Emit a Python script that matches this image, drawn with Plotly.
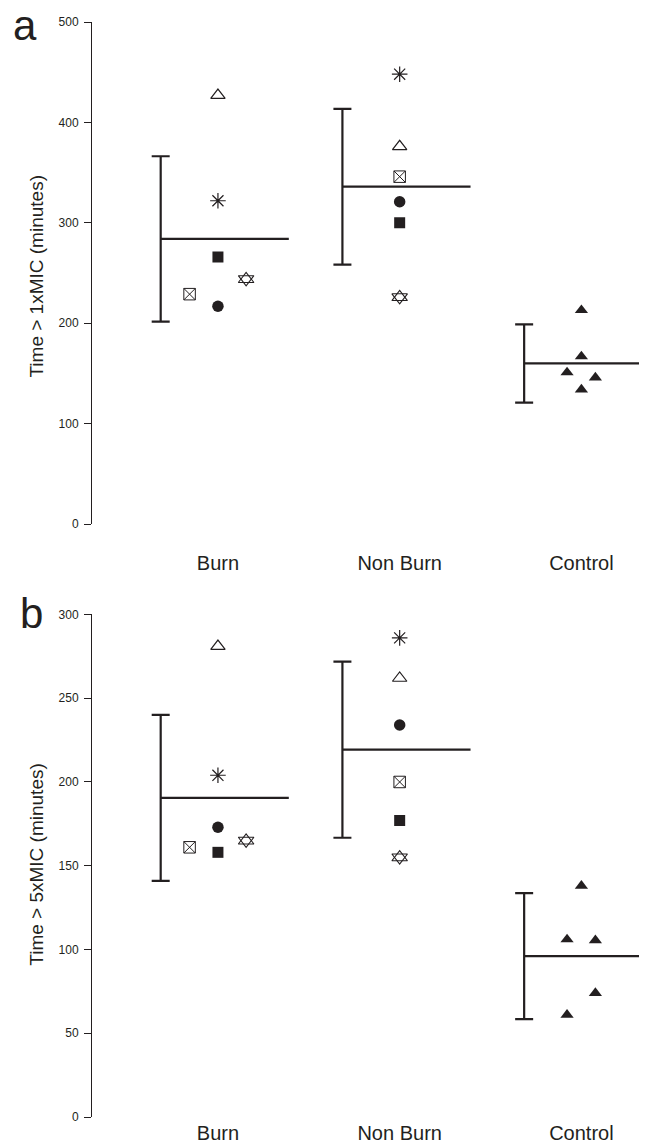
import plotly.graph_objects as go

# ---------------- data ----------------
categories = ["Burn", "Non Burn", "Control"]
subject_symbols = ["open triangle", "asterisk", "filled square", "hexagram", "crossed square", "filled circle"]

# Panel a : Time > 1xMIC (minutes)
burn_a = [427, 322, 266, 244, 229, 217]
nonburn_a = [376, 448, 300, 226, 346, 321]
control_a = [213, 167, 151, 146, 134]
mean_a = [284, 336, 160]
sd_a = [82.3, 77.5, 39.0]
ticks_a = [0, 100, 200, 300, 400, 500]

# Panel b : Time > 5xMIC (minutes)
burn_b = [281, 204, 158, 165, 161, 173]
nonburn_b = [262, 286, 177, 155, 200, 234]
control_b = [138, 106, 105.5, 74, 61]
mean_b = [190.5, 219.3, 96.0]
sd_b = [49.5, 52.6, 37.6]
ticks_b = [0, 50, 100, 150, 200, 250, 300]

# ---------------- styling ----------------
INK = "#231f20"
FONT = "Liberation Sans, Arial, Helvetica, sans-serif"
BODY = 8                      # default page margin around the figure
W, H = 647 - BODY, 1144 - BODY
ML, MR = 92 - BODY, 0
MT = 22 - BODY
PLOT_BOTTOM = 1116.7 - BODY   # figure px of panel b baseline
MB = H - PLOT_BOTTOM
PH = H - MT - MB

# horizontal jitter of subjects within a group (layout only)
burn_offsets = {"open triangle": 0, "asterisk": 0, "filled square": 0,
                "hexagram": 0.155, "crossed square": -0.156, "filled circle": 0}
control_offsets_a = [0, 0, -0.079, 0.077, 0]
control_offsets_b = [0, -0.079, 0.077, 0.077, -0.079]
ERR_OFF = -0.315
MEAN_END = 0.39

sym_style = {
    "open triangle": [dict(symbol="triangle-up-open", size=12.5, lw=1.2)],
    "asterisk": [dict(symbol="asterisk-open", size=13, lw=1.2)],
    "filled square": [dict(symbol="square", size=11, lw=0)],
    "hexagram": [dict(symbol="triangle-up-open", size=13.5, lw=1.1),
                 dict(symbol="triangle-down-open", size=13.5, lw=1.1)],
    "crossed square": [dict(symbol="square-x-open", size=11.5, lw=1.0)],
    "filled circle": [dict(symbol="circle", size=11.5, lw=0)],
}

fig = go.Figure()


def add_panel(xa, ya, burn, nonburn, control, ctrl_off, means, sds):
    for gi, vals in enumerate([burn, nonburn]):
        for name, v in zip(subject_symbols, vals):
            off = burn_offsets[name] if gi == 0 else 0
            for st in sym_style[name]:
                fig.add_trace(go.Scatter(
                    x=[gi + off], y=[v], mode="markers", xaxis=xa, yaxis=ya,
                    showlegend=False, hoverinfo="skip",
                    marker=dict(symbol=st["symbol"], size=st["size"], color=INK,
                                line=dict(width=st["lw"], color=INK))))
    fig.add_trace(go.Scatter(
        x=[2 + o for o in ctrl_off], y=control, mode="markers", xaxis=xa, yaxis=ya,
        showlegend=False, hoverinfo="skip",
        marker=dict(symbol="triangle-up", size=11.5, color=INK, line=dict(width=0))))
    fig.add_trace(go.Scatter(
        x=[i + ERR_OFF for i in range(3)], y=means, mode="markers", xaxis=xa, yaxis=ya,
        showlegend=False, hoverinfo="skip",
        marker=dict(size=0.1, color="rgba(0,0,0,0)"),
        error_y=dict(type="data", array=sds, symmetric=True, color=INK,
                     thickness=2.2, width=9)))
    for i, m in enumerate(means):
        fig.add_trace(go.Scatter(
            x=[i + ERR_OFF, i + MEAN_END], y=[m, m], mode="lines", xaxis=xa, yaxis=ya,
            showlegend=False, hoverinfo="skip", line=dict(color=INK, width=2.2)))


add_panel("x", "y", burn_a, nonburn_a, control_a, control_offsets_a, mean_a, sd_a)
add_panel("x2", "y2", burn_b, nonburn_b, control_b, control_offsets_b, mean_b, sd_b)


def page_y_to_paper(py):
    return (PLOT_BOTTOM - (py - BODY)) / PH


def page_x_to_paper(px):
    return ((px - BODY) - ML) / (W - ML - MR)


dom_a = [page_y_to_paper(524), 1.0]
dom_b = [0.0, page_y_to_paper(614.3)]
xr = [-0.693, 2.361]

xcommon = dict(range=xr, showgrid=False, zeroline=False, showline=False, ticks="",
               tickvals=[0, 1, 2], ticktext=categories,
               tickfont=dict(family=FONT, size=20, color=INK))
ycommon = dict(showgrid=False, zeroline=False, showline=True, linecolor=INK, linewidth=1,
               ticks="outside", ticklen=7, tickwidth=1, tickcolor=INK,
               tickfont=dict(family=FONT, size=12, color=INK), ticklabelstandoff=3)

fig.update_layout(
    width=W, height=H, margin=dict(l=ML, r=MR, t=MT, b=MB),
    paper_bgcolor="white", plot_bgcolor="white", showlegend=False,
    xaxis=dict(**xcommon, anchor="y", ticklabelstandoff=25),
    yaxis=dict(**ycommon, domain=dom_a, range=[0, 500], tickvals=ticks_a, anchor="x"),
    xaxis2=dict(**xcommon, anchor="y2", ticklabelstandoff=2),
    yaxis2=dict(**ycommon, domain=dom_b, range=[0, 300], tickvals=ticks_b, anchor="x2"),
)

annots = [
    dict(text="Time > 1xMIC (minutes)", x=page_x_to_paper(36.5), y=page_y_to_paper(276),
         textangle=-90, font=dict(size=19)),
    dict(text="Time > 5xMIC (minutes)", x=page_x_to_paper(36.5), y=page_y_to_paper(864),
         textangle=-90, font=dict(size=19)),
    dict(text="a", x=page_x_to_paper(25), y=page_y_to_paper(25), font=dict(size=42),
         height=38, valign="middle"),
    dict(text="b", x=page_x_to_paper(31.5), y=page_y_to_paper(613), font=dict(size=42),
         height=38, valign="middle"),
]
for a in annots:
    a["font"].update(family=FONT, color=INK)
    fig.add_annotation(xref="paper", yref="paper", xanchor="center", yanchor="middle",
                       showarrow=False, **a)

fig.write_html("out.html")
